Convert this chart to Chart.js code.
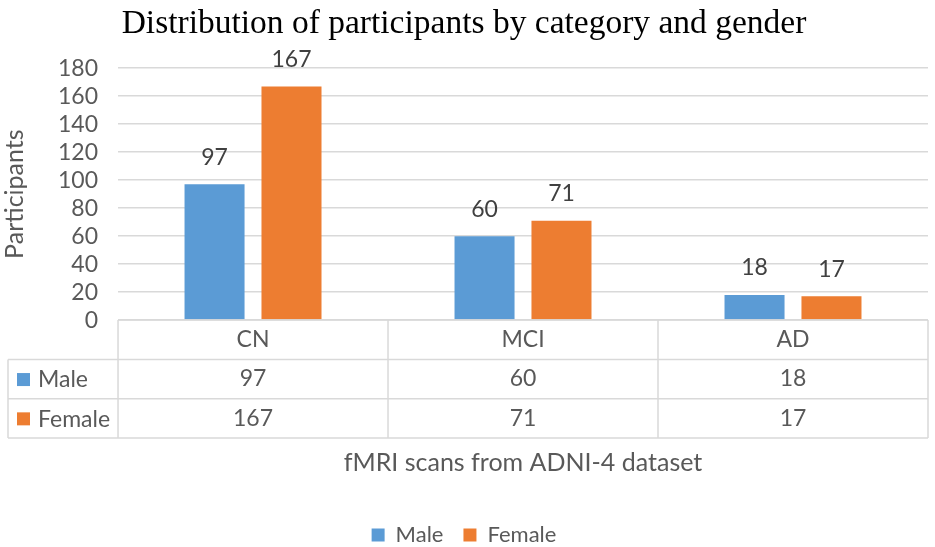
<!DOCTYPE html>
<html lang="en">
<head>
  <meta charset="UTF-8">
  <title>Participants by category and gender</title>
  <script src="https://cdn.jsdelivr.net/npm/chart.js"></script>
  <style>
    body { margin: 0; background: #fff; }
    .wrap { width: 935px; height: 547px; }
  </style>
</head>
<body>
  <div class="wrap"><canvas id="chart"></canvas></div>

  <script>
    // data
    const categories = ['CN', 'MCI', 'AD'];
    const seriesNames = ['Male', 'Female'];
    const male = [97, 60, 18];
    const female = [167, 71, 17];
    const yMax = 180, yStep = 20;

    const BLUE = '#5B9BD5', ORANGE = '#ED7D31';
    const TEXT = '#595959', GRID = '#D9D9D9';
    const FONT = 'Lato, "Open Sans", sans-serif';
    const ROW = 39.3;   // table row height
    const colors = [BLUE, ORANGE];

    // values above the bars
    const barLabels = {
      id: 'barLabels',
      afterDatasetsDraw(chart) {
        const ctx = chart.ctx;
        ctx.save();
        ctx.font = '23px ' + FONT;
        ctx.fillStyle = '#404040';
        ctx.textAlign = 'center';
        ctx.textBaseline = 'middle';
        chart.data.datasets.forEach((ds, i) => {
          chart.getDatasetMeta(i).data.forEach((bar, j) => {
            ctx.fillText(ds.data[j], bar.x, bar.y - 27);
          });
        });
        ctx.restore();
      }
    };

    // data table grid + legend keys under the plot
    const dataTable = {
      id: 'dataTable',
      afterDraw(chart) {
        const ctx = chart.ctx;
        const area = chart.chartArea;
        const x = chart.scales.x;
        const top = area.bottom;
        const left = 8, right = area.right;
        const half = (x.getPixelForValue(1) - x.getPixelForValue(0)) / 2;
        ctx.save();
        ctx.strokeStyle = GRID;
        ctx.lineWidth = 1.5;
        ctx.beginPath();
        ctx.moveTo(area.left, top); ctx.lineTo(right, top);
        for (let r = 1; r <= 3; r++) {
          ctx.moveTo(left, top + r * ROW); ctx.lineTo(right, top + r * ROW);
        }
        ctx.moveTo(left, top + ROW); ctx.lineTo(left, top + 3 * ROW);
        ctx.moveTo(area.left, top); ctx.lineTo(area.left, top + 3 * ROW);
        categories.forEach((c, i) => {
          const xe = x.getPixelForValue(i) + half;
          ctx.moveTo(xe, top); ctx.lineTo(xe, top + 3 * ROW);
        });
        ctx.stroke();

        ctx.font = '23px ' + FONT;
        ctx.textBaseline = 'middle';
        ctx.textAlign = 'left';
        seriesNames.forEach((name, r) => {
          const cy = top + (r + 1.5) * ROW;
          ctx.fillStyle = colors[r];
          ctx.fillRect(17, cy - 6, 13, 13);
          ctx.fillStyle = TEXT;
          ctx.fillText(name, 38, cy + 1);
        });
        ctx.restore();
      }
    };

    new Chart(document.getElementById('chart'), {
      type: 'bar',
      data: {
        labels: categories,
        datasets: [
          { label: seriesNames[0], data: male, backgroundColor: BLUE },
          { label: seriesNames[1], data: female, backgroundColor: ORANGE }
        ]
      },
      options: {
        responsive: true,
        maintainAspectRatio: false,
        animation: false,
        layout: { padding: { left: 0, right: 7, top: 0, bottom: -9 } },
        datasets: { bar: { categoryPercentage: 0.57, barPercentage: 0.78 } },
        plugins: {
          title: {
            display: true,
            text: 'Distribution of participants by category and gender',
            font: { family: '"Liberation Serif", "Times New Roman", serif', size: 33.5, weight: 'normal' },
            color: '#000',
            padding: { top: 4, bottom: 24 }
          },
          legend: {
            position: 'bottom',
            labels: {
              color: TEXT, font: { family: FONT, size: 22 },
              boxWidth: 13, boxHeight: 13, padding: 20
            }
          },
          tooltip: { enabled: false }
        },
        scales: {
          x: {
            grid: { display: false, drawTicks: false },
            border: { display: false },
            ticks: {
              color: TEXT,
              font: { family: FONT, size: 23, lineHeight: ROW / 23 },
              padding: 0,
              maxRotation: 0,
              callback: (v, i) => [categories[i], String(male[i]), String(female[i])]
            },
            title: {
              display: true, text: 'fMRI scans from ADNI-4 dataset',
              color: TEXT, font: { family: FONT, size: 25 },
              padding: { top: 10, bottom: 26 }
            }
          },
          y: {
            min: 0, max: yMax,
            grid: { color: GRID, lineWidth: 1.5, drawTicks: false },
            border: { display: false },
            ticks: {
              stepSize: yStep, color: TEXT, autoSkip: false,
              font: { family: FONT, size: 23 },
              padding: 20
            },
            title: {
              display: true, text: 'Participants',
              color: TEXT, font: { family: FONT, size: 25 },
              padding: { top: 0, bottom: 8 }
            }
          }
        }
      },
      plugins: [barLabels, dataTable]
    });
  </script>
</body>
</html>
